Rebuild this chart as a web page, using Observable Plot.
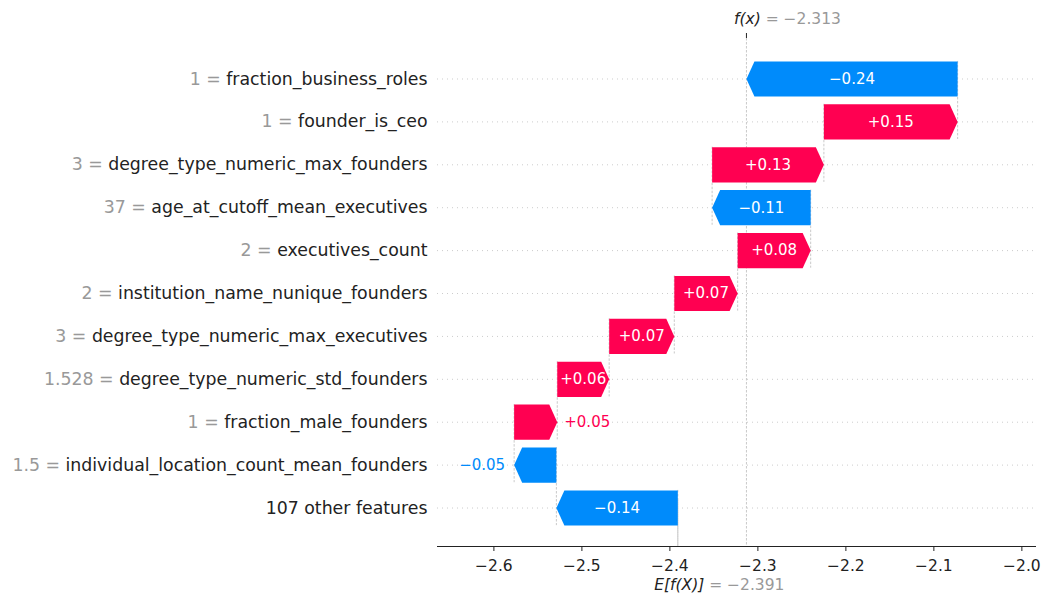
<!DOCTYPE html>
<html>
<head>
<meta charset="utf-8">
<script src="https://cdn.jsdelivr.net/npm/d3@7"></script>
<script src="https://cdn.jsdelivr.net/npm/@observablehq/plot@0.6"></script>
<style>
  body { margin: 0; background: #ffffff; }
  #chart svg { display: block; }
</style>
</head>
<body>
<div id="chart"></div>
<script>
// ---- data (top row first) ----
const featureNames = [
  "fraction_business_roles",
  "founder_is_ceo",
  "degree_type_numeric_max_founders",
  "age_at_cutoff_mean_executives",
  "executives_count",
  "institution_name_nunique_founders",
  "degree_type_numeric_max_executives",
  "degree_type_numeric_std_founders",
  "fraction_male_founders",
  "individual_location_count_mean_founders",
  "107 other features"
];
const featureValues = ["1", "1", "3", "37", "2", "2", "3", "1.528", "1", "1.5", ""];
const shapValues = [-0.240, 0.152, 0.127, -0.112, 0.083, 0.072, 0.074, 0.059, 0.049, -0.048, -0.138];
const baseValue = -2.391;
const fxValue = -2.313;
const xTicks = [-2.6, -2.5, -2.4, -2.3, -2.2, -2.1, -2.0];

// ---- layout ----
const W = 1044, H = 601, mL = 437, mR = 9, mT = 38, mB = 55;
const xDomain = [-2.6641, -1.9845];
const yDomain = [10.897, -0.944];
const pxPerUnit = (W - mL - mR) / (xDomain[1] - xDomain[0]);
const RED = "#ff0051", BLUE = "#008bfb";
const half = 0.41;
const headLen = 8 / pxPerUnit;

const n = featureNames.length;
const rows = new Array(n);
let pos = baseValue;
for (let j = n - 1; j >= 0; j--) {
  const v = shapValues[j];
  const start = pos, end = pos + v;
  const txt = (v > 0 ? "+" : "\u2212") + Math.abs(v).toFixed(2);
  const label = featureValues[j] !== "" ? `\u2039g\u203a${featureValues[j]} = \u2039k\u203a${featureNames[j]}` : `\u2039k\u203a${featureNames[j]}`;
  rows[j] = {j, v, start, end, txt, label, inside: Math.abs(v) * pxPerUnit >= 47};
  pos = end;
}

const polys = [];
rows.forEach(r => {
  const s = r.start, e = r.end, sgn = r.v > 0 ? 1 : -1;
  const hl = Math.min(headLen, Math.abs(r.v));
  const pts = [
    [s, r.j - half], [e - sgn * hl, r.j - half], [e, r.j], [e - sgn * hl, r.j + half], [s, r.j + half]
  ];
  pts.forEach(([x, y]) => polys.push({id: r.j, pos: r.v > 0, x, y}));
});

const yBottom = yDomain[0], yTop = yDomain[1];
const fmt = d3.format(".1f");

const chart = Plot.plot({
  width: W, height: H,
  marginLeft: mL, marginRight: mR, marginTop: mT, marginBottom: mB,
  style: {fontFamily: "DejaVu Sans", fontSize: "15.5px", color: "#222222", background: "#ffffff"},
  x: {domain: xDomain, ticks: xTicks, tickFormat: fmt, tickSize: 5, tickPadding: 8, line: true, label: null},
  y: {domain: yDomain, axis: null},
  marks: [
    // horizontal dotted gridlines
    Plot.ruleY(rows, {y: "j", stroke: "#cccccc", strokeWidth: 1, strokeDasharray: "1,4"}),
    // f(x) full-height line
    Plot.ruleX([fxValue], {x: d => d, y1: yTop, y2: yBottom, stroke: "#bbbbbb", strokeWidth: 0.8, strokeDasharray: "2.5,1.5"}),
    // base value line (bottom portion)
    Plot.ruleX([baseValue], {x: d => d, y1: yBottom - (yBottom - yTop) / n, y2: yBottom, stroke: "#bbbbbb", strokeWidth: 0.8, strokeDasharray: "2.5,1.5"}),
    // connectors
    Plot.ruleX(rows, {x: "start", y1: d => d.j - half, y2: d => Math.min(d.j + 1 + half, yBottom), stroke: "#bbbbbb", strokeWidth: 0.8, strokeDasharray: "2.5,1.5"}),
    // top tick for f(x)
    Plot.ruleX([fxValue], {x: d => d, y1: yTop, y2: yTop - 5 / ((H - mT - mB) / (yBottom - yTop)), stroke: "#222222", strokeWidth: 1}),
    // arrows
    Plot.line(polys.filter(d => d.pos), {x: "x", y: "y", z: "id", fill: RED, stroke: "none", curve: "linear-closed"}),
    Plot.line(polys.filter(d => !d.pos), {x: "x", y: "y", z: "id", fill: BLUE, stroke: "none", curve: "linear-closed"}),
    // value labels
    Plot.text(rows.filter(d => d.inside), {x: d => (d.start + d.end) / 2, y: "j", text: "txt", fill: "#ffffff", fontSize: 15}),
    Plot.text(rows.filter(d => !d.inside && d.v > 0), {x: "end", y: "j", text: "txt", fill: RED, fontSize: 15, textAnchor: "start", dx: 7}),
    Plot.text(rows.filter(d => !d.inside && d.v < 0), {x: "end", y: "j", text: "txt", fill: BLUE, fontSize: 15, textAnchor: "end", dx: -9}),
    // feature labels
    Plot.text(rows, {x: () => xDomain[0], y: "j", text: "label", textAnchor: "end", dx: -10, fontSize: 17.33, fill: "#222222"}),
    // f(x) and E[f(X)] labels
    Plot.text([fxValue], {x: d => d, frameAnchor: "top", lineAnchor: "middle", text: d => `\u2039i\u203af(x)\u2039g\u203a = \u2212${Math.abs(d).toFixed(3)}`, dy: -19.5, dx: 41, fontSize: 15.5, fill: "#222222"}),
    Plot.text([baseValue], {x: d => d, frameAnchor: "bottom", lineAnchor: "middle", text: d => `\u2039i\u203aE[f(X)]\u2039g\u203a = \u2212${Math.abs(d).toFixed(3)}`, dy: 38.5, dx: 41.5, fontSize: 15.5, fill: "#222222"})
  ]
});

// split marked labels into styled tspans; enlarge x tick labels
const tickStrings = new Set(xTicks.map(fmt));
d3.select(chart).selectAll("text").each(function () {
  const t = this.textContent;
  if (tickStrings.has(t)) {
    this.style.fontSize = "15.5px";
    this.style.fontFamily = "DejaVu Sans";
    this.style.fill = "#222222";
    return;
  }
  if (!t.includes("\u2039")) return;
  const parts = t.split("\u2039").filter(p => p.length);
  this.textContent = "";
  for (const p of parts) {
    const code = p[0];
    const content = p.slice(2);
    const ts = document.createElementNS("http://www.w3.org/2000/svg", "tspan");
    ts.textContent = content;
    if (code === "g") ts.setAttribute("fill", "#999999");
    else if (code === "i") { ts.setAttribute("fill", "#222222"); ts.setAttribute("font-style", "italic"); }
    else ts.setAttribute("fill", "#222222");
    this.appendChild(ts);
  }
});

document.getElementById("chart").appendChild(chart);
</script>
</body>
</html>
